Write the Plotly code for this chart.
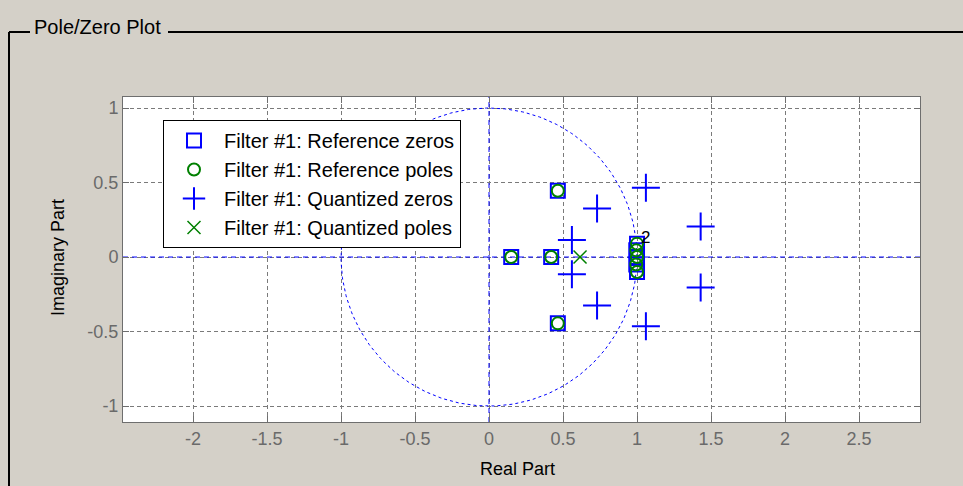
import numpy as np
import plotly.graph_objects as go

# ---- data ----
ref_zeros_re = [0.15, 0.42, 0.465, 0.465, 1.0, 0.995, 1.0, 0.995, 1.0]
ref_zeros_im = [0.0, 0.0, 0.445, -0.445, 0.09, 0.045, 0.0, -0.05, -0.1]
ref_poles_re = [0.15, 0.42, 0.465, 0.465, 1.0, 0.995, 1.0, 0.995, 1.0]
ref_poles_im = [0.0, 0.0, 0.445, -0.445, 0.09, 0.045, 0.0, -0.05, -0.1]
q_zeros_re = [1.06, 0.73, 0.56, 0.56, 0.73, 1.06, 1.43, 1.43]
q_zeros_im = [0.465, 0.325, 0.115, -0.115, -0.325, -0.465, 0.205, -0.205]
q_poles_re = [0.615]
q_poles_im = [0.0]
xticks = [-2, -1.5, -1, -0.5, 0, 0.5, 1, 1.5, 2, 2.5]
yticks = [-1, -0.5, 0, 0.5, 1]
xrange_ = [-2.473, 2.912]
yrange_ = [-1.107, 1.074]

W, H = 963, 486
L, R, T, B = 123, 920, 97, 422

def px(x):
    return (x - L) / (R - L)

def py(y):
    return (B - y) / (B - T)

BLUE = "#0000ff"
GREEN = "#008000"
FONT = "Liberation Sans, Arial, sans-serif"

fig = go.Figure()

# unit circle
th = np.linspace(0, 2 * np.pi, 361)
fig.add_trace(go.Scatter(x=np.cos(th), y=np.sin(th), mode="lines",
                         line=dict(color=BLUE, width=1, dash="3px,3px"),
                         showlegend=False, hoverinfo="skip"))
# axes lines through origin
fig.add_trace(go.Scatter(x=xrange_, y=[0, 0], mode="lines",
                         line=dict(color=BLUE, width=1, dash="5px,4px"),
                         showlegend=False, hoverinfo="skip"))
fig.add_trace(go.Scatter(x=[0, 0], y=yrange_, mode="lines",
                         line=dict(color=BLUE, width=1, dash="5px,4px"),
                         showlegend=False, hoverinfo="skip"))

fig.add_trace(go.Scatter(x=ref_zeros_re, y=ref_zeros_im, mode="markers",
                         name="Filter #1: Reference zeros",
                         marker=dict(symbol="square-open", size=14, color=BLUE,
                                     line=dict(width=2, color=BLUE))))
fig.add_trace(go.Scatter(x=ref_poles_re, y=ref_poles_im, mode="markers",
                         name="Filter #1: Reference poles",
                         marker=dict(symbol="circle-open", size=12, color=GREEN,
                                     line=dict(width=2, color=GREEN))))
fig.add_trace(go.Scatter(x=q_zeros_re, y=q_zeros_im, mode="markers",
                         name="Filter #1: Quantized zeros",
                         marker=dict(symbol="cross-thin-open", size=20, color=BLUE,
                                     line=dict(width=2, color=BLUE))))
fig.add_trace(go.Scatter(x=q_poles_re, y=q_poles_im, mode="markers",
                         name="Filter #1: Quantized poles",
                         marker=dict(symbol="x-thin-open", size=13, color=GREEN,
                                     line=dict(width=1.5, color=GREEN))))

axis_common = dict(showgrid=True, gridcolor="#7a7a7a", griddash="4px,3px", gridwidth=1,
                   zeroline=False, showline=True, linecolor="#6e6e6e", linewidth=1,
                   mirror="ticks", ticks="inside", ticklen=6, tickcolor="#6e6e6e",
                   tickfont=dict(family=FONT, size=18, color="#6a6a6a"))

fig.update_xaxes(range=xrange_, tickvals=xticks, ticktext=[f"{v:g}" for v in xticks],
                 **axis_common)
fig.update_yaxes(range=yrange_, tickvals=yticks, ticktext=[f"{v:g}" for v in yticks],
                 **axis_common)

shapes = [
    # group box frame
    dict(type="line", xref="paper", yref="paper", x0=px(9), x1=px(30), y0=py(32), y1=py(32),
         line=dict(color="#000000", width=2)),
    dict(type="line", xref="paper", yref="paper", x0=px(168), x1=px(W), y0=py(32), y1=py(32),
         line=dict(color="#000000", width=2)),
    dict(type="line", xref="paper", yref="paper", x0=px(9), x1=px(9), y0=py(32), y1=py(H),
         line=dict(color="#000000", width=2)),
]

annotations = [
    dict(text="Pole/Zero Plot", xref="paper", yref="paper", x=px(32), y=py(27),
         xanchor="left", yanchor="middle", showarrow=False,
         font=dict(family=FONT, size=20, color="#000000")),
    dict(text="Real Part", xref="paper", yref="paper", x=px(517), y=py(469),
         xanchor="center", yanchor="middle", showarrow=False,
         font=dict(family=FONT, size=18, color="#000000")),
    dict(text="Imaginary Part", xref="paper", yref="paper", x=px(58), y=py(258),
         xanchor="center", yanchor="middle", showarrow=False, textangle=-90,
         font=dict(family=FONT, size=18, color="#000000")),
    dict(text="2", x=1.055, y=0.13, xanchor="center", yanchor="middle", showarrow=False,
         font=dict(family=FONT, size=17, color="#000000")),
]

fig.update_layout(
    width=W, height=H,
    margin=dict(l=L, r=W - R, t=T, b=H - B, autoexpand=False),
    paper_bgcolor="#d4d0c8", plot_bgcolor="#ffffff",
    shapes=shapes, annotations=annotations,
    legend=dict(x=px(163), y=py(120), xanchor="left", yanchor="top",
                bgcolor="#ffffff", bordercolor="#000000", borderwidth=1,
                font=dict(family=FONT, size=20, color="#000000"),
                itemwidth=50, tracegroupgap=0),
    showlegend=True,
)

fig.write_html("out.html")
